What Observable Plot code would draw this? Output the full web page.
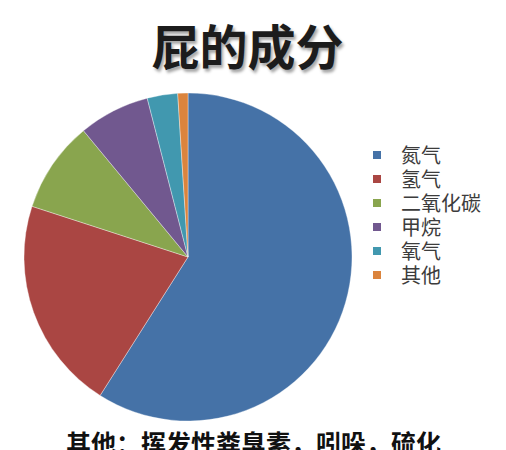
<!DOCTYPE html>
<html><head><meta charset="utf-8">
<script src="https://cdn.jsdelivr.net/npm/d3@7"></script>
<script src="https://cdn.jsdelivr.net/npm/@observablehq/plot@0.6"></script>
<style>
html,body{margin:0;padding:0;background:#fff;}
#wrap{position:relative;width:506px;height:450px;overflow:hidden;background:#fff;font-family:"Noto Sans CJK SC","Noto Sans",sans-serif;}
#title{position:absolute;left:0;top:20px;width:495px;text-align:center;font-size:48px;line-height:48px;font-weight:700;color:#1c1c1c;text-shadow:2px 3px 3px rgba(0,0,0,0.35);}
#chart{position:absolute;left:0;top:85px;}
#legend{position:absolute;left:373px;top:143px;}
.lg-swatches{font-family:"Noto Sans CJK SC",sans-serif;font-size:20px;color:#3c3c3c;margin:0;}
.lg-swatch{height:24px;padding:0;}
.lg-swatch > svg{margin-right:20px;}
.lg-swatch-label{line-height:22px;overflow:visible !important;text-overflow:clip !important;}
#note{position:absolute;left:66px;top:430px;font-size:25px;line-height:25px;font-weight:700;color:#111;white-space:nowrap;}
</style>
</head><body>
<div id="wrap">
  <div id="title"></div>
  <div id="chart"></div>
  <div id="legend"></div>
  <div id="note"></div>
</div>
<script>
const titleText = "屁的成分";
const noteText = "其他：挥发性粪臭素，吲哚，硫化";
const names = ["氮气", "氢气", "二氧化碳", "甲烷", "氧气", "其他"];
const shares = [59, 21, 9, 7, 3, 1];
const colors = ["#4572a7", "#aa4643", "#89a54e", "#71588f", "#4198af", "#db843d"];

const data = names.map((name, i) => ({name, value: shares[i]}));
const colorScale = Plot.scale({color: {type: "ordinal", domain: names, range: colors}});

document.getElementById("title").textContent = titleText;
document.getElementById("note").textContent = noteText;

const pieMark = (index, scales, values, dimensions) => {
  let cx, cy, r;
  if (scales.x && scales.y) {
    cx = scales.x(0); cy = scales.y(0);
    r = Math.abs(scales.x(1) - scales.x(0));
  } else {
    const {width, height, marginLeft, marginRight, marginTop, marginBottom} = dimensions;
    cx = (marginLeft + width - marginRight) / 2;
    cy = (marginTop + height - marginBottom) / 2;
    r = Math.min(width - marginLeft - marginRight, height - marginTop - marginBottom) / 2;
  }
  const arcs = d3.pie().sort(null).value(d => d.value)(data);
  const arc = d3.arc().innerRadius(0).outerRadius(r);
  const g = d3.create("svg:g").attr("transform", `translate(${cx},${cy})`);
  g.selectAll("path").data(arcs).join("path")
    .attr("d", arc)
    .attr("fill", d => colorScale.apply(d.data.name))
    .attr("stroke", "#ffffff")
    .attr("stroke-opacity", 0.45)
    .attr("stroke-width", 0.8)
    .attr("stroke-linejoin", "round");
  return g.node();
};

const chart = Plot.plot({
  width: 360,
  height: 345,
  marginLeft: 24,
  marginRight: 8,
  marginTop: 8,
  marginBottom: 9,
  x: {domain: [-1, 1], axis: null},
  y: {domain: [-1, 1], axis: null},
  marks: [pieMark]
});
document.getElementById("chart").appendChild(chart);

const legend = Plot.legend({
  color: {type: "ordinal", domain: names, range: colors},
  legend: "swatches",
  columns: 1,
  swatchSize: 8,
  className: "lg"
});
document.getElementById("legend").appendChild(legend);
</script>
</body></html>
